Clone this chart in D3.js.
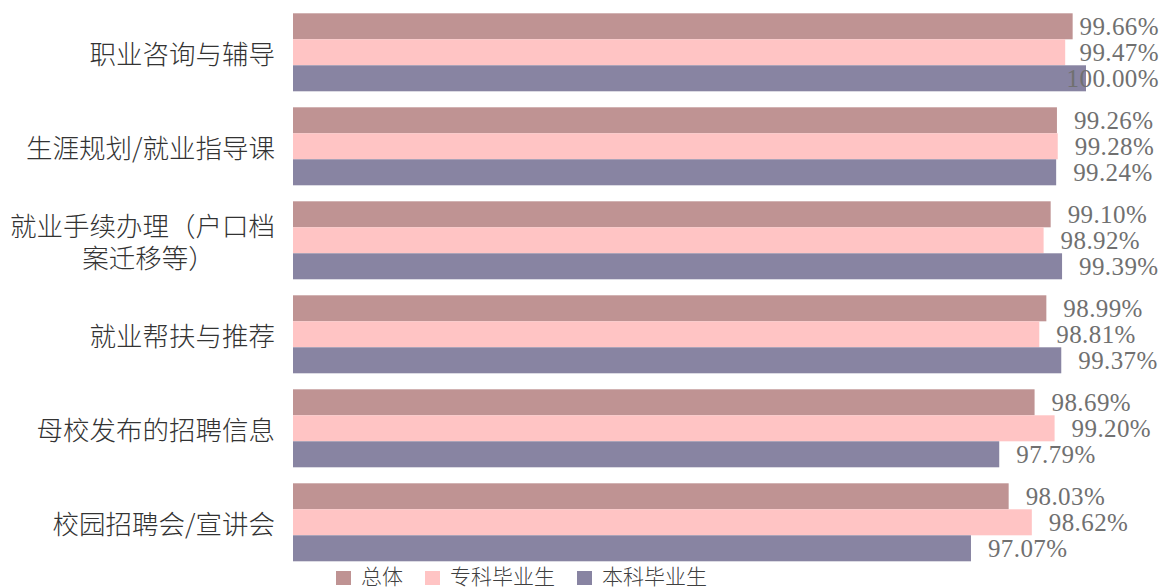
<!DOCTYPE html>
<html>
<head>
<meta charset="utf-8">
<script src="https://cdn.jsdelivr.net/npm/d3@7/dist/d3.min.js"></script>
<style>
  html, body { margin: 0; padding: 0; background: #ffffff; }
  svg { display: block; }
</style>
</head>
<body>
<svg id="chart" width="1161" height="587"></svg>
<script>
// ---- data ----
const categories = [
  ["职业咨询与辅导"],
  ["生涯规划/就业指导课"],
  ["就业手续办理（户口档", "案迁移等）"],
  ["就业帮扶与推荐"],
  ["母校发布的招聘信息"],
  ["校园招聘会/宣讲会"]
];
const seriesNames = ["总体", "专科毕业生", "本科毕业生"];
const totalValues = [99.66, 99.26, 99.10, 98.99, 98.69, 98.03];
const juniorValues = [99.47, 99.28, 98.92, 98.81, 99.20, 98.62];
const bachelorValues = [100.00, 99.24, 99.39, 99.37, 97.79, 97.07];
const seriesColors = ["#bf9393", "#ffc4c4", "#8884a2"];

const seriesValues = [totalValues, juniorValues, bachelorValues];

const svg = d3.select("#chart");
const W = 1161;

const x = d3.scaleLinear().domain([79.8, 100]).range([293, 1086]);
const y0 = d3.scaleBand().domain(d3.range(categories.length))
  .range([13.3, 561.3]).paddingInner(16 / 94).paddingOuter(0);
const y1 = d3.scaleBand().domain(d3.range(seriesNames.length))
  .range([0, y0.bandwidth()]).padding(0);

const groups = svg.append("g").selectAll("g")
  .data(categories)
  .join("g")
  .attr("transform", (d, i) => `translate(0,${y0(i)})`);

// bars
groups.each(function (cat, ci) {
  const g = d3.select(this);
  seriesNames.forEach((s, si) => {
    const v = seriesValues[si][ci];
    g.append("rect")
      .attr("x", x.range()[0])
      .attr("y", y1(si))
      .attr("width", x(v) - x.range()[0])
      .attr("height", y1.bandwidth())
      .attr("fill", seriesColors[si]);
  });
});

// value labels
groups.each(function (cat, ci) {
  const g = d3.select(this);
  seriesNames.forEach((s, si) => {
    const v = seriesValues[si][ci];
    const t = g.append("text")
      .attr("y", y1(si) + y1.bandwidth() / 2)
      .attr("dy", "0.35em")
      .attr("font-family", "'Liberation Serif', 'DejaVu Serif', serif")
      .attr("font-size", 25)
      .attr("letter-spacing", 0.4)
      .attr("fill", "#707070")
      .text(v.toFixed(2) + "%");
    const w = t.node().getComputedTextLength();
    const xs = Math.min(x(v) + 17, W - 2 - w);
    t.attr("x", xs);
  });
});

// category labels
groups.each(function (cat, ci) {
  const g = d3.select(this);
  const cy = y0.bandwidth() / 2;
  const lh = 32;
  const texts = cat.map((line, li) => g.append("text")
    .attr("y", cy + (li - (cat.length - 1) / 2) * lh + 2)
    .attr("dy", "0.35em")
    .attr("font-family", "'Noto Sans CJK SC', sans-serif")
    .attr("font-weight", 300)
    .attr("font-size", 26.5)
    .attr("fill", "#333333")
    .text(line));
  if (cat.length === 1) {
    texts[0].attr("x", 275).attr("text-anchor", "end");
  } else {
    const maxW = d3.max(texts, t => t.node().getComputedTextLength());
    texts.forEach((t, li) => t.attr("x", 275 - maxW / 2 + (li > 0 ? 6 : 0)).attr("text-anchor", "middle"));
  }
});

// legend
const legend = svg.append("g");
let lx = 336;
seriesNames.forEach((s, si) => {
  legend.append("rect")
    .attr("x", lx).attr("y", 571)
    .attr("width", 15).attr("height", 14)
    .attr("fill", seriesColors[si]);
  const t = legend.append("text")
    .attr("x", lx + 25).attr("y", 584)
    .attr("font-family", "'Noto Sans CJK SC', sans-serif")
    .attr("font-weight", 300)
    .attr("font-size", 21)
    .attr("fill", "#404040")
    .text(s);
  lx += 25 + t.node().getComputedTextLength() + 22;
});
</script>
</body>
</html>
